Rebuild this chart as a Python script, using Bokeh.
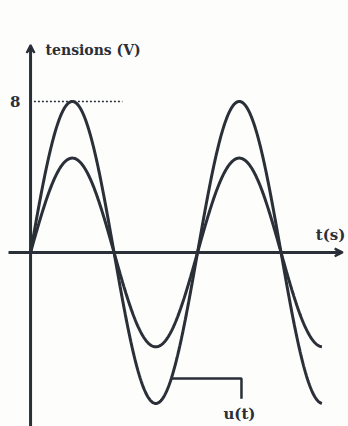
import numpy as np
from bokeh.plotting import figure
from bokeh.models import Arrow, VeeHead, Label
from bokeh.embed import file_html
from bokeh.resources import INLINE

# Two sinusoidal tensions sharing the same period and phase
PERIOD = 1.0              # s
AMPLITUDES = [8.0, 5.0]   # V : u(t) and the smaller tension
T_END = 1.745             # s, end of the drawn traces
PEAK_TICK = 8             # value marked on the vertical axis

INK = "#2a2f38"
SERIF = "DejaVu Serif"

t = np.linspace(0.0, T_END, 600)
u_big = AMPLITUDES[0] * np.sin(2 * np.pi * t / PERIOD)
u_small = AMPLITUDES[1] * np.sin(2 * np.pi * t / PERIOD)

p = figure(width=348, height=426, output_backend="svg", toolbar_location=None,
           x_range=(-0.180, 1.904), y_range=(-9.22, 13.35),
           min_border=0, outline_line_color=None)
p.axis.visible = False
p.grid.visible = False
p.background_fill_color = "#fdfdfc"
p.border_fill_color = "#fdfdfc"

# axes drawn as arrows through the origin
p.add_layout(Arrow(x_start=-0.132, y_start=0, x_end=1.87, y_end=0,
                   line_color=INK, line_width=3,
                   end=VeeHead(size=8, line_color=INK, line_width=2)))
p.add_layout(Arrow(x_start=0, y_start=-9.3, x_end=0, y_end=11.0,
                   line_color=INK, line_width=3,
                   end=VeeHead(size=8, line_color=INK, line_width=2)))

# dotted marker for the peak value
p.line([0.02, 0.55], [PEAK_TICK, PEAK_TICK], line_color=INK, line_width=1.5,
       line_dash="2 2")

# the two traces
p.line(t, u_big, line_color=INK, line_width=3)
p.line(t, u_small, line_color=INK, line_width=3)

# leader line pointing to u(t)
t_lead = 0.843
v_lead = AMPLITUDES[0] * np.sin(2 * np.pi * t_lead / PERIOD)
p.line([t_lead, 1.263, 1.263], [v_lead, v_lead, -7.75],
       line_color=INK, line_width=2.5)

# texts
p.add_layout(Label(x=0.09, y=10.3, text="tensions (V)", text_font=SERIF,
                   text_font_style="bold", text_font_size="14px",
                   text_color=INK))
p.add_layout(Label(x=-0.06, y=PEAK_TICK, text=str(PEAK_TICK), text_font=SERIF,
                   text_font_style="bold", text_font_size="15px",
                   text_color=INK, text_align="right", text_baseline="middle"))
p.add_layout(Label(x=1.885, y=0.45, text="t(s)", text_font=SERIF,
                   text_font_style="bold", text_font_size="15px",
                   text_color=INK, text_align="right"))
p.add_layout(Label(x=1.155, y=-8.55, text="u(t)", text_font=SERIF,
                   text_font_style="bold", text_font_size="15px",
                   text_color=INK, text_baseline="middle"))

open("out.html", "w").write(file_html(p, INLINE))
